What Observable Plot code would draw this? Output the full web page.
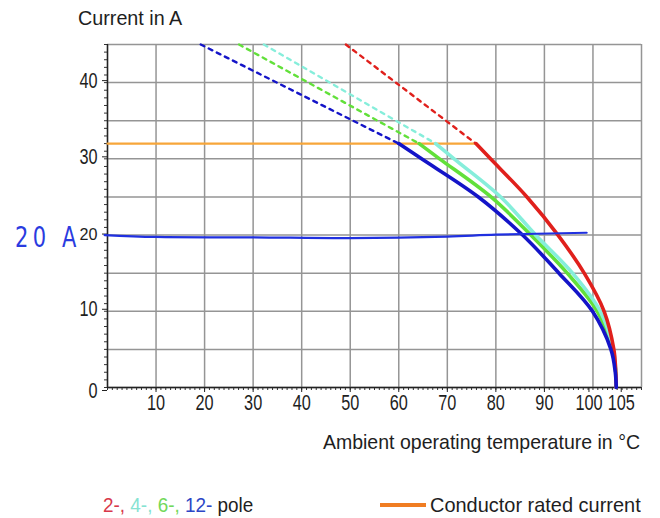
<!DOCTYPE html>
<html>
<head>
<meta charset="utf-8">
<script src="https://cdn.jsdelivr.net/npm/d3@7"></script>
<script src="https://cdn.jsdelivr.net/npm/@observablehq/plot@0.6"></script>
<style>
  html, body { margin: 0; padding: 0; background: #fff; }
  #wrap { position: relative; width: 660px; height: 518px; overflow: hidden;
          font-family: "Liberation Sans", Arial, sans-serif; color: #1e1e1e; }
  .lbl { position: absolute; white-space: nowrap; font-size: 21px; line-height: 22px; transform-origin: left center; }
  #chart { position: absolute; left: 0; top: 0; }
</style>
</head>
<body>
<div id="wrap">
  <div id="chart"></div>
  <div class="lbl" id="title" style="left:78px; top:7px; transform:scaleX(0.94);">Current in A</div>
  <div class="lbl" id="xlabel" style="right:20px; top:431px; transform:scaleX(0.93); transform-origin: right center;">Ambient operating temperature in °C</div>
  <div class="lbl" id="hand" style="left:15px; top:224px; font-family:'DejaVu Sans', sans-serif; font-size:28px; line-height:28px; letter-spacing:6px; color:#2a3be0; transform:scaleX(0.75);">20 A</div>
  <div class="lbl" id="leg1" style="left:103px; top:494px; transform:scaleX(0.9);"><span style="color:#d8384a">2-,</span> <span style="color:#86e3d2">4-,</span> <span style="color:#72d85a">6-,</span> <span style="color:#2c46c6">12-</span> pole</div>
  <div class="lbl" id="leg2" style="left:380px; top:494px;"><span style="display:inline-block;width:46px;height:4px;background:#f07d22;vertical-align:middle;margin-right:4px;position:relative;top:-1px;"></span><span style="display:inline-block; transform:scaleX(0.95); transform-origin:left center;">Conductor rated current</span></div>
</div>
<script>
// ---- data (temperature °C, current A) ----
const xTickLabels = [10, 20, 30, 40, 50, 60, 70, 80, 90];
const xTickLabel100 = [100];
const xTickLabel105 = [105];
const yTickLabels = [10, 30, 40];
const yTickLabel0 = [0];
const yTickLabel20 = [20];

const ratedT = [0, 75.9];
const ratedI = [32, 32];

const pole2DashT = [49.1, 75.9];
const pole2DashI = [45, 32];
const pole2T = [75.9, 78.9, 86.4, 92.8, 98.2, 102.3, 104.3, 104.7, 104.8];
const pole2I = [32, 30, 25, 20, 15, 10, 5, 2, 0];

const pole4DashT = [32.2, 67.6];
const pole4DashI = [45, 32];
const pole4T = [67.6, 71.4, 81.0, 88.2, 95.8, 101.5, 104.2, 104.7, 104.8];
const pole4I = [32, 30, 25, 20, 15, 10, 5, 2, 0];

const pole6DashT = [27.1, 64.2];
const pole6DashI = [45, 32];
const pole6T = [64.2, 68.4, 79.0, 87.2, 94.7, 100.9, 104.0, 104.7, 104.8];
const pole6I = [32, 30, 25, 20, 15, 10, 5, 2, 0];

const pole12DashT = [19.2, 60.0];
const pole12DashI = [45, 32];
const pole12T = [60.0, 64.7, 76.4, 85.5, 93.0, 99.9, 103.7, 104.6, 104.8];
const pole12I = [32, 30, 25, 20, 15, 10, 5, 2, 0];

const handT = [-0.6, 10, 30, 50, 70, 80, 98.7];
const handI = [20.0, 19.75, 19.7, 19.6, 19.8, 20.05, 20.3];

// ---- build ----
const pts = (t, i) => t.map((v, k) => ({t: v, i: i[k]}));
const C = {red: "#e0201c", cyan: "#86eedb", green: "#62e03a", blue: "#1414c8", orange: "#f7a63a", hand: "#2030e0"};
const font = "'Liberation Sans', Arial, sans-serif";
const grid = "#959595";

const solid = (t, i, c) => Plot.line(pts(t, i), {x: "t", y: "i", stroke: c, strokeWidth: 3.6, curve: "catmull-rom"});
const dashed = (t, i, c) => Plot.line(pts(t, i), {x: "t", y: "i", stroke: c, strokeWidth: 2.4, strokeDasharray: "4,5"});

const chart = Plot.plot({
  width: 660,
  height: 420,
  marginLeft: 107,
  marginRight: 19,
  marginTop: 44,
  marginBottom: 33,
  style: {fontFamily: font, fontSize: "22px", color: "#1e1e1e", background: "transparent"},
  x: {domain: [0, 110], label: null},
  y: {domain: [0, 45], label: null},
  marks: [
    Plot.gridX(d3.range(0, 111, 10), {stroke: grid, strokeOpacity: 1, strokeWidth: 1.5}),
    Plot.gridY(d3.range(0, 46, 5), {stroke: grid, strokeOpacity: 1, strokeWidth: 1.5}),
    Plot.axisY(d3.range(0, 46, 1), {tickSize: 3, tickFormat: () => "", label: null, stroke: "#333"}),
    Plot.axisX(d3.range(0, 111, 1), {tickSize: 3, tickFormat: () => "", label: null, stroke: "#333"}),
    Plot.axisY(yTickLabels, {tickSize: 5, tickPadding: 5, dy: -2, label: null, fontSize: 22, stroke: "#222"}),
    Plot.axisY(yTickLabel0, {tickSize: 5, tickPadding: 5, dy: 3, label: null, fontSize: 22, stroke: "#222"}),
    Plot.axisY(yTickLabel20, {tickSize: 5, tickPadding: 5, dy: -1, label: null, fontSize: 17, stroke: "#222"}),
    Plot.axisX(xTickLabels, {tickSize: 5, tickPadding: 2, label: null, fontSize: 22, stroke: "#222"}),
    Plot.axisX(xTickLabel100, {tickSize: 5, tickPadding: 2, dx: -4, label: null, fontSize: 22, stroke: "#222"}),
    Plot.axisX(xTickLabel105, {tickSize: 5, tickPadding: 2, dx: 4, label: null, fontSize: 22, stroke: "#222"}),
    Plot.ruleX([0], {stroke: "#222", strokeWidth: 1.4}),
    Plot.ruleY([0], {stroke: "#222", strokeWidth: 1.4}),
    Plot.line(pts(ratedT, ratedI), {x: "t", y: "i", stroke: C.orange, strokeWidth: 2.2}),
    dashed(pole2DashT, pole2DashI, C.red),
    dashed(pole4DashT, pole4DashI, C.cyan),
    dashed(pole6DashT, pole6DashI, C.green),
    dashed(pole12DashT, pole12DashI, C.blue),
    solid(pole6T, pole6I, C.green),
    solid(pole4T, pole4I, C.cyan),
    solid(pole2T, pole2I, C.red),
    solid(pole12T, pole12I, C.blue),
    Plot.line(pts(handT, handI), {x: "t", y: "i", stroke: C.hand, strokeWidth: 2.2, curve: "catmull-rom"})
  ]
});
// condense tick label glyphs horizontally around their anchor (narrow type as in the reference)
chart.querySelectorAll("text").forEach(t => {
  const small = t.closest("g") && t.closest("g").getAttribute("font-size") === "17";
  const tr = t.getAttribute("transform") || "";
  t.setAttribute("transform", tr + (small ? " scale(0.95,1)" : " scale(0.74,1)"));
});
document.getElementById("chart").appendChild(chart);
</script>
</body>
</html>
